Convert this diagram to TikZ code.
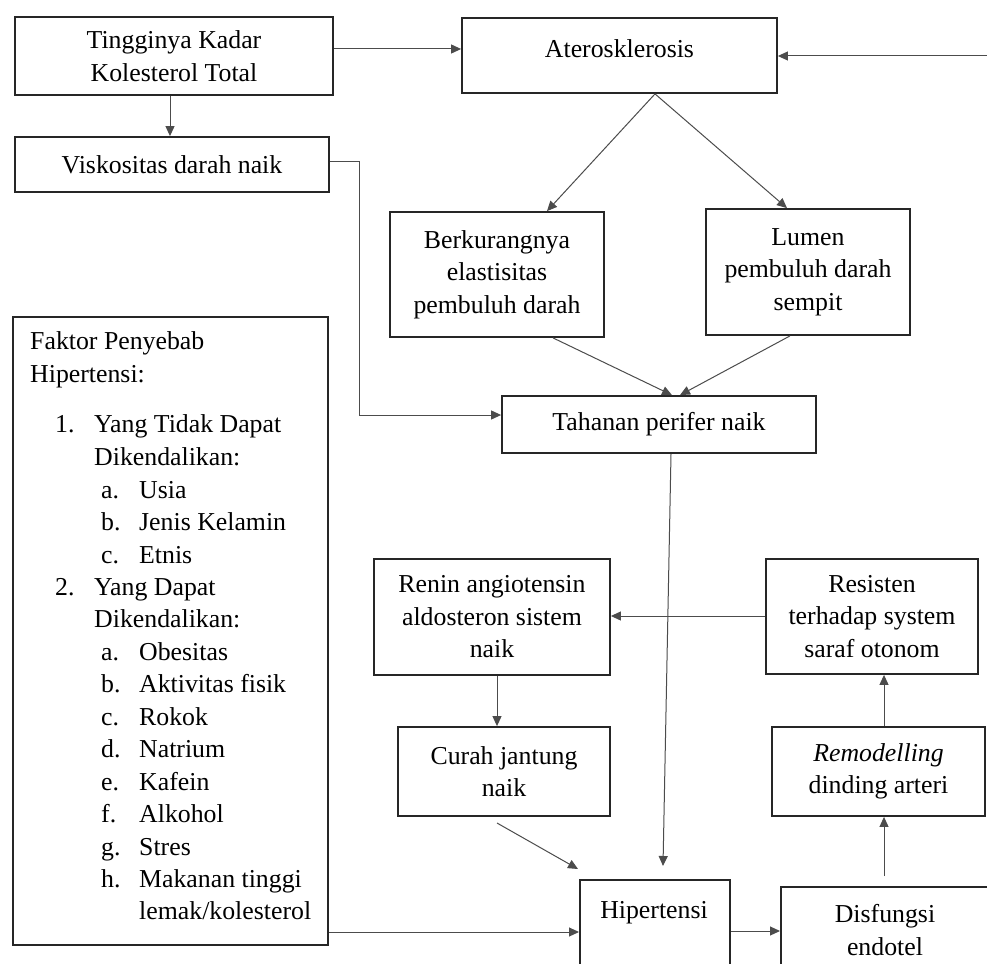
\documentclass[tikz,border=0pt]{standalone}
\usepackage{fontspec}
\setmainfont{Liberation Serif}
\usetikzlibrary{arrows.meta}
\begin{document}
\begin{tikzpicture}[x=1pt,y=-1pt,
  every node/.style={font=\fontsize{25.8pt}{32.5pt}\selectfont, text=black},
  box/.style={draw=black!85, line width=1.8pt, inner sep=0pt, align=center},
  txt/.style={inner sep=0pt, anchor=base west},
  arr/.style={draw=black!70, line width=1pt, -{Triangle[length=10pt,width=9pt]}}]
\useasboundingbox (0,0) rectangle (987,963);
\clip (0,0) rectangle (987,963);
\fill[white] (0,0) rectangle (987,963);

% boxes
\node[box, minimum width=318pt, minimum height=78pt] (tkt) at (174,56) {Tingginya Kadar\\Kolesterol Total};
\node[box, minimum width=315pt, minimum height=75pt] (ath) at (619.5,55.5) {\raisebox{7pt}[\height][\depth]{Aterosklerosis}};
\node[box, minimum width=314pt, minimum height=55pt] (vis) at (172,164.5) {Viskositas darah naik};
\node[box, minimum width=214pt, minimum height=125pt] (ber) at (497,274.5) {Berkurangnya\\elastisitas\\pembuluh darah};
\node[box, minimum width=204pt, minimum height=126pt] (lum) at (808,272) {Lumen\\pembuluh darah\\sempit};
\node[box, minimum width=314pt, minimum height=57pt] (tah) at (659,424.5) {Tahanan perifer naik};
\node[box, minimum width=315pt, minimum height=628pt] (fak) at (170.5,631) {};
\node[box, minimum width=236pt, minimum height=116pt] (ren) at (492,617) {Renin angiotensin\\aldosteron sistem\\naik};
\node[box, minimum width=212pt, minimum height=115pt] (res) at (872,616.5) {Resisten\\terhadap system\\saraf otonom};
\node[box, minimum width=212pt, minimum height=89pt] (cur) at (504,771.5) {Curah jantung\\naik};
\node[box, minimum width=213pt, minimum height=89pt] (rem) at (878.5,771.5) {\textit{Remodelling}\\dinding arteri};
\node[box, minimum width=150pt, minimum height=120pt, anchor=north west] (hip) at (579,879) {};
\node[inner sep=0pt] (hipt) at (654,913) {Hipertensi};
\node[box, minimum width=220pt, minimum height=120pt, anchor=north west] (dis) at (780,886) {};
\node[inner sep=0pt, align=center] (dist) at (885,930) {Disfungsi\\endotel};

% list in Faktor box
\node[txt] (l1) at (30,349) {Faktor Penyebab};
\node[txt] (l2) at (30,382) {Hipertensi:};
\node[txt] (n1) at (55,432) {1.};
\node[txt] (l3) at (94,432) {Yang Tidak Dapat};
\node[txt] (l4) at (94,465) {Dikendalikan:};
\node[txt] (a1) at (101,498) {a.};
\node[txt] (a1t) at (139,498) {Usia};
\node[txt] (b1) at (101,530) {b.};
\node[txt] (b1t) at (139,530) {Jenis Kelamin};
\node[txt] (c1) at (101,563) {c.};
\node[txt] (c1t) at (139,563) {Etnis};
\node[txt] (n2) at (55,595) {2.};
\node[txt] (l5) at (94,595) {Yang Dapat};
\node[txt] (l6) at (94,627) {Dikendalikan:};
\node[txt] (a2) at (101,660) {a.};
\node[txt] (a2t) at (139,660) {Obesitas};
\node[txt] (b2) at (101,692) {b.};
\node[txt] (b2t) at (139,692) {Aktivitas fisik};
\node[txt] (c2) at (101,725) {c.};
\node[txt] (c2t) at (139,725) {Rokok};
\node[txt] (d2) at (101,757) {d.};
\node[txt] (d2t) at (139,757) {Natrium};
\node[txt] (e2) at (101,790) {e.};
\node[txt] (e2t) at (139,790) {Kafein};
\node[txt] (f2) at (101,822) {f.};
\node[txt] (f2t) at (139,822) {Alkohol};
\node[txt] (g2) at (101,855) {g.};
\node[txt] (g2t) at (139,855) {Stres};
\node[txt] (h2) at (101,887) {h.};
\node[txt] (h2t) at (139,887) {Makanan tinggi};
\node[txt] (h2u) at (139,919) {lemak/kolesterol};

% free ends
\coordinate (rin) at (987,56);
\coordinate (tahin) at (663,866);
\coordinate (curout) at (497,823);
\coordinate (curin) at (578,869);
\coordinate (disout) at (884,876);

% connectors
\draw[arr] (tkt.east |- 0,49) -- (ath.west |- 0,49);
\draw[arr] (tkt.south -| 170,0) -- (vis.north -| 170,0);
\draw[arr] (rin) -- (ath.east |- rin);
\draw[arr] (ath.south -| 655,0) -- (ber.north -| 547,0);
\draw[arr] (ath.south -| 655,0) -- (lum.north -| 787,0);
\draw[arr] (vis.east |- 0,161) -- (359,161) -- (359,415) -- (tah.west |- 0,415);
\draw[arr] (ber.south -| 553,0) -- (tah.north -| 672,0);
\draw[arr] (lum.south -| 790,0) -- (tah.north -| 680,0);
\draw[arr] (tah.south -| 671,0) -- (tahin);
\draw[arr] (res.west |- 0,616) -- (ren.east |- 0,616);
\draw[arr] (ren.south -| 497,0) -- (cur.north -| 497,0);
\draw[arr] (curout) -- (curin);
\draw[arr] (fak.east |- 0,932) -- (hip.west |- 0,932);
\draw[arr] (hip.east |- 0,931) -- (dis.west |- 0,931);
\draw[arr] (disout) -- (rem.south -| 884,0);
\draw[arr] (rem.north -| 884,0) -- (res.south -| 884,0);
\end{tikzpicture}
\end{document}
